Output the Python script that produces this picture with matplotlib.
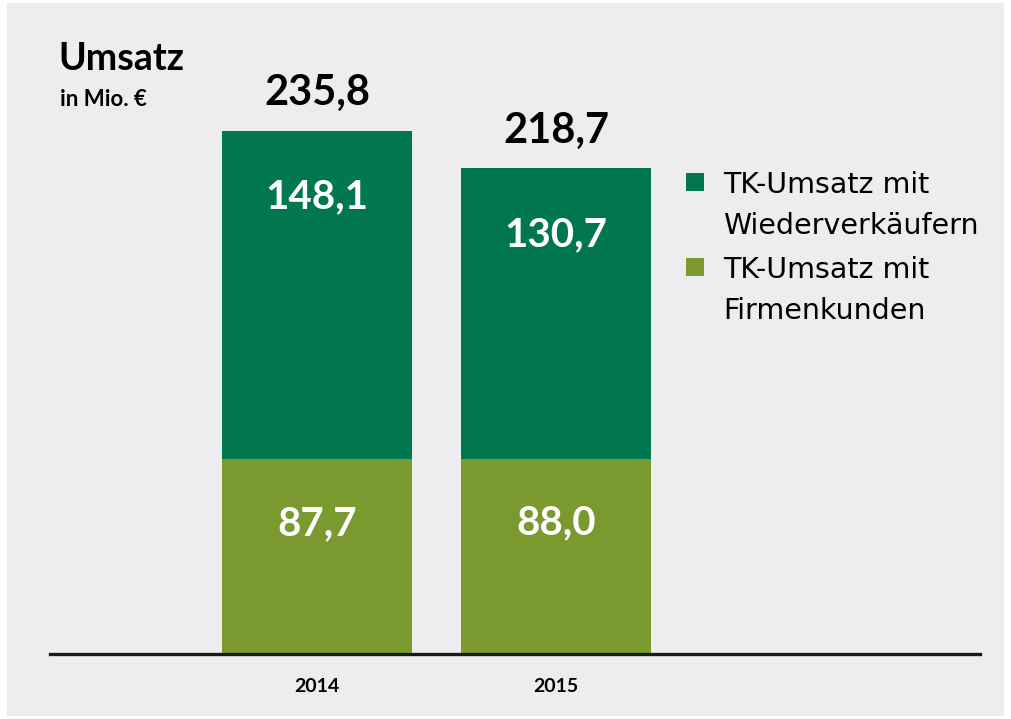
import matplotlib
matplotlib.use("Agg")
import matplotlib.pyplot as plt
from matplotlib.patches import Rectangle

plt.rcParams['font.family'] = ['Lato', 'DejaVu Sans']

years = ["2014", "2015"]
firmenkunden = [87.7, 88.0]
wiederverkaeufer = [148.1, 130.7]
totals = [235.8, 218.7]
series_names = ["TK-Umsatz mit\nWiederverkäufern", "TK-Umsatz mit\nFirmenkunden"]
title = "Umsatz"
subtitle = "in Mio. €"

DARK = "#00774F"
LIGHT = "#7A992E"
BG = "#EDEDEF"

W, H = 1011, 719
fig = plt.figure(figsize=(W / 100, H / 100), dpi=100)
fig.patch.set_facecolor("white")
fig.patches.append(Rectangle((7 / W, 3 / H), (1004 - 7) / W, (716 - 3) / H,
                             transform=fig.transFigure, facecolor=BG,
                             edgecolor="none", zorder=-10))

left_px, right_px = 50, 980
base_px = 654
scale = 2.22  # px per unit
ymax = 240
ax = fig.add_axes([left_px / W, (H - base_px) / H, (right_px - left_px) / W,
                   ymax * scale / H])
ax.patch.set_visible(False)

x = list(range(len(years)))
width = 190 / 239
ax.bar(x, firmenkunden, width=width, color=LIGHT, zorder=2)
ax.bar(x, wiederverkaeufer, width=width, bottom=firmenkunden, color=DARK, zorder=2)

ax.set_xlim(-(317 - left_px) / 239, 1 + (right_px - 556) / 239)
ax.set_ylim(0, ymax)

for s in ["top", "right", "left"]:
    ax.spines[s].set_visible(False)
ax.spines["bottom"].set_linewidth(2.4)
ax.spines["bottom"].set_color("#1a1a1a")
ax.spines["bottom"].set_zorder(3)
ax.set_yticks([])
ax.set_xticks(x)
ax.set_xticklabels(years, fontsize=14, fontweight="bold",
                   family=["Liberation Sans Narrow", "Lato"])
ax.tick_params(axis="x", length=0, pad=17)

for i in x:
    ax.annotate(f"{wiederverkaeufer[i]:.1f}".replace(".", ","),
                (i, firmenkunden[i] + wiederverkaeufer[i]), xytext=(0, -66 * 0.72),
                textcoords="offset points", ha="center", va="center",
                color="white", fontsize=29, fontweight="bold")
    ax.annotate(f"{firmenkunden[i]:.1f}".replace(".", ","),
                (i, firmenkunden[i]), xytext=(0, -64 * 0.72),
                textcoords="offset points", ha="center", va="center",
                color="white", fontsize=29, fontweight="bold")
    ax.annotate(f"{totals[i]:.1f}".replace(".", ","),
                (i, totals[i]), xytext=(0, 38 * 0.72),
                textcoords="offset points", ha="center", va="center",
                color="black", fontsize=30, fontweight="bold",
                annotation_clip=False)

fig.text(58 / W, 1 - 59 / H, title, fontsize=27, fontweight="bold",
         ha="left", va="center")
fig.text(60 / W, 1 - 100 / H, subtitle, fontsize=16, fontweight="bold",
         ha="left", va="center")

leg_colors = [DARK, LIGHT]
leg_y = [182, 267]
line_gap = 41
for name, c, yc in zip(series_names, leg_colors, leg_y):
    fig.patches.append(Rectangle((686 / W, 1 - (yc + 9) / H), 18 / W, 18 / H,
                                 transform=fig.transFigure, facecolor=c,
                                 edgecolor="none"))
    for k, line in enumerate(name.split("\n")):
        fig.text(723 / W, 1 - (yc + 1 + k * line_gap + 10) / H, line,
                 fontsize=20.5, family="DejaVu Sans", ha="left", va="baseline")

fig.savefig("out.png", dpi=100)
